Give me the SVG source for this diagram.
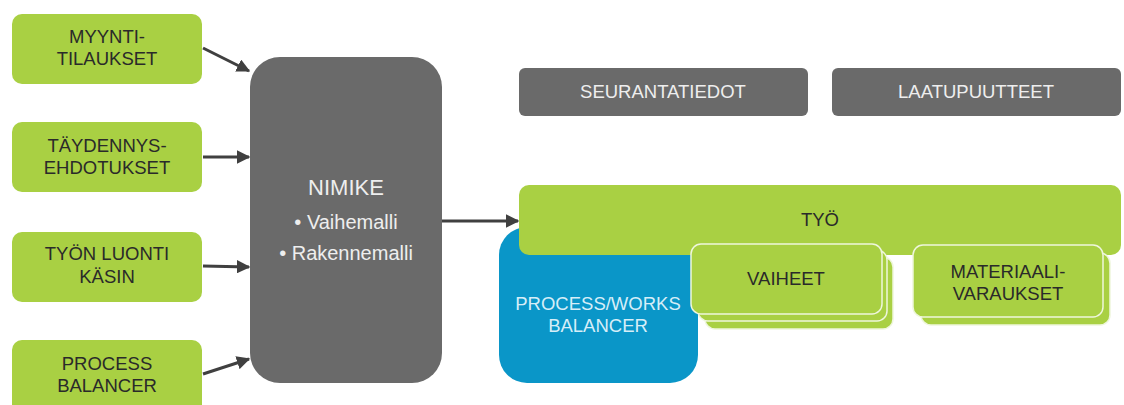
<svg xmlns="http://www.w3.org/2000/svg" width="1124" height="405" viewBox="0 0 1124 405">
<defs>
<style>
.g{fill:#a9d043;}
.gs{fill:#a9d043;stroke:#eef6dc;stroke-width:1.5;}
.d{fill:#6a6a6a;}
.b{fill:#0a96c8;}
.t{font-family:"Liberation Sans",Arial,sans-serif;font-size:18.5px;fill:#2a2a2a;text-anchor:middle;}
.w{font-family:"Liberation Sans",Arial,sans-serif;font-size:18.5px;fill:#eeeeee;text-anchor:middle;}
.lb{font-family:"Liberation Sans",Arial,sans-serif;font-size:18.5px;fill:#d6eef8;text-anchor:middle;}
.big{font-size:22px;}
.mid{font-size:20px;}
.c{stroke:#404040;stroke-width:3;fill:none;marker-end:url(#ah);}
</style>
<marker id="ah" viewBox="0 0 10 10" refX="9" refY="5" markerWidth="4.5" markerHeight="4.5" orient="auto" markerUnits="strokeWidth">
<path d="M0,0 L10,5 L0,10 z" fill="#404040"/>
</marker>
</defs>
<rect width="1124" height="405" fill="#ffffff"/>

<g id="myynti">
<rect class="g" x="12" y="14" width="190" height="70" rx="10"/>
<text class="t" x="107" y="43">MYYNTI-<tspan x="107" dy="22">TILAUKSET</tspan></text>
</g>
<g id="taydennys">
<rect class="g" x="12" y="122" width="190" height="70" rx="10"/>
<text class="t" x="107" y="152">TÄYDENNYS-<tspan x="107" dy="22">EHDOTUKSET</tspan></text>
</g>
<g id="tyon-luonti">
<rect class="g" x="12" y="232" width="190" height="70" rx="10"/>
<text class="t" x="107" y="260">TYÖN LUONTI<tspan x="107" dy="23">KÄSIN</tspan></text>
</g>
<g id="process-balancer">
<rect class="g" x="12" y="340" width="190" height="75" rx="10"/>
<text class="t" x="107" y="370">PROCESS<tspan x="107" dy="22">BALANCER</tspan></text>
</g>

<g id="nimike">
<rect class="d" x="250" y="57" width="192" height="326" rx="30"/>
<text class="w big" x="346" y="195">NIMIKE</text>
<text class="w mid" x="346" y="229">• Vaihemalli</text>
<text class="w mid" x="346" y="260">• Rakennemalli</text>
</g>

<g id="seurantatiedot">
<rect class="d" x="519" y="68" width="289" height="48" rx="6"/>
<text class="w" x="663" y="98">SEURANTATIEDOT</text>
</g>
<g id="laatupuutteet">
<rect class="d" x="832" y="68" width="289" height="48" rx="6"/>
<text class="w" x="976" y="98">LAATUPUUTTEET</text>
</g>

<g id="pwb">
<rect class="b" x="499" y="227" width="199" height="156" rx="28"/>
<text class="lb" x="598" y="310">PROCESS/WORKS<tspan x="598" dy="22">BALANCER</tspan></text>
</g>

<g id="tyo">
<rect class="g" x="519" y="185" width="602" height="70" rx="10"/>
<text class="t" x="820" y="226">TYÖ</text>
</g>

<g id="vaiheet">
<rect class="gs" x="705" y="257" width="188" height="72" rx="10"/>
<rect class="gs" x="698" y="250" width="189" height="71" rx="10"/>
<rect class="gs" x="691" y="244" width="191" height="70" rx="10"/>
<text class="t" x="786" y="285">VAIHEET</text>
</g>

<g id="materiaali">
<rect class="gs" x="921" y="253" width="189" height="72" rx="10"/>
<rect class="gs" x="913" y="245" width="190" height="72" rx="10"/>
<text class="t" x="1008" y="278">MATERIAALI-<tspan x="1008" dy="22">VARAUKSET</tspan></text>
</g>

<g id="connectors">
<line class="c" x1="203" y1="48" x2="249" y2="71"/>
<line class="c" x1="203" y1="157" x2="249" y2="157"/>
<line class="c" x1="203" y1="266" x2="249" y2="267"/>
<line class="c" x1="203" y1="374" x2="249" y2="359"/>
<line class="c" x1="442" y1="221" x2="518" y2="221"/>
</g>
</svg>
